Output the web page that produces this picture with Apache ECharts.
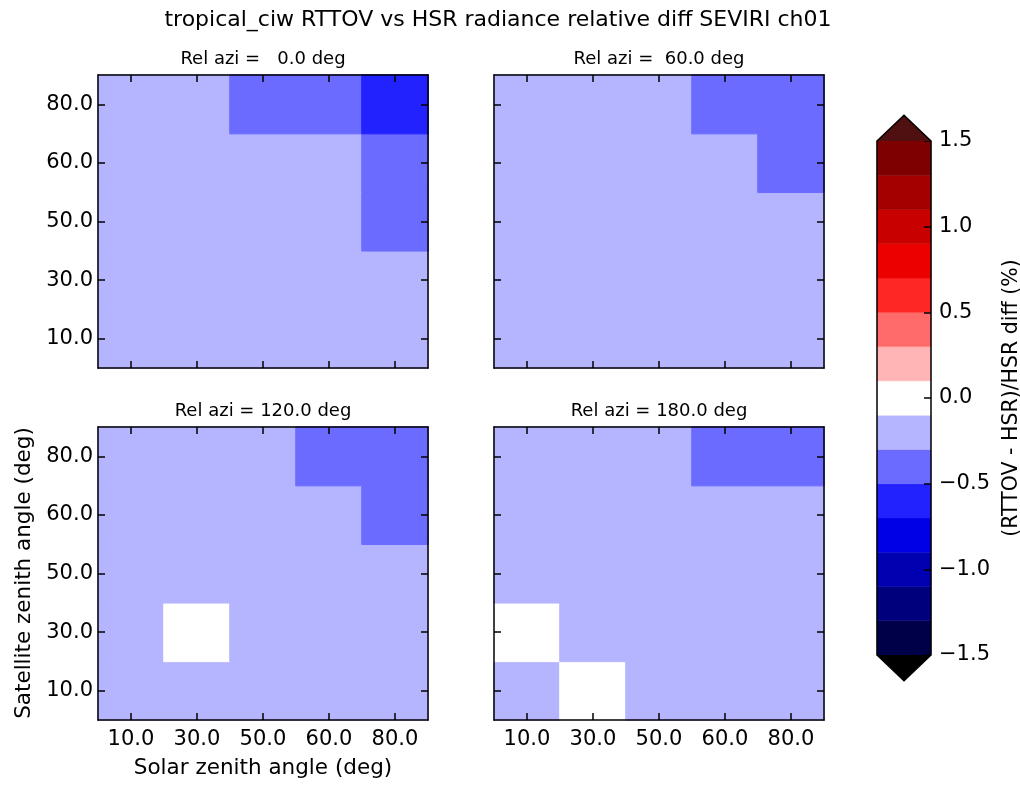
<!DOCTYPE html>
<html><head><meta charset="utf-8">
<script src="https://cdn.jsdelivr.net/npm/echarts@6/dist/echarts.min.js"></script>
<style>html,body{margin:0;padding:0;background:#fff}#c{width:1020px;height:785px}</style>
</head><body><div id="c"></div>
<script>
// ---------- data ----------
const solarZenith = ['10.0', '30.0', '50.0', '60.0', '80.0'];   // x categories
const satZenith   = ['10.0', '30.0', '50.0', '60.0', '80.0'];   // y categories (bottom -> top)
const relAzi = [0.0, 60.0, 120.0, 180.0];
// rows: satellite zenith 10 -> 80 ; columns: solar zenith 10 -> 80  (relative diff, %)
const diffAzi0 = [
  [-0.2, -0.2, -0.2, -0.2, -0.2],
  [-0.2, -0.2, -0.2, -0.2, -0.2],
  [-0.2, -0.2, -0.2, -0.2, -0.4],
  [-0.2, -0.2, -0.2, -0.2, -0.4],
  [-0.2, -0.2, -0.4, -0.4, -0.6]
];
const diffAzi60 = [
  [-0.2, -0.2, -0.2, -0.2, -0.2],
  [-0.2, -0.2, -0.2, -0.2, -0.2],
  [-0.2, -0.2, -0.2, -0.2, -0.2],
  [-0.2, -0.2, -0.2, -0.2, -0.4],
  [-0.2, -0.2, -0.2, -0.4, -0.4]
];
const diffAzi120 = [
  [-0.2, -0.2, -0.2, -0.2, -0.2],
  [-0.2,  0.0, -0.2, -0.2, -0.2],
  [-0.2, -0.2, -0.2, -0.2, -0.2],
  [-0.2, -0.2, -0.2, -0.2, -0.4],
  [-0.2, -0.2, -0.2, -0.4, -0.4]
];
const diffAzi180 = [
  [-0.2,  0.0, -0.2, -0.2, -0.2],
  [ 0.0, -0.2, -0.2, -0.2, -0.2],
  [-0.2, -0.2, -0.2, -0.2, -0.2],
  [-0.2, -0.2, -0.2, -0.2, -0.2],
  [-0.2, -0.2, -0.2, -0.4, -0.4]
];
const panelData = [diffAzi0, diffAzi60, diffAzi120, diffAzi180];
const levels = [-1.5, -1.3, -1.1, -0.9, -0.7, -0.5, -0.3, -0.1, 0.1, 0.3, 0.5, 0.7, 0.9, 1.1, 1.3, 1.5];
const levelColors = ['#000048', '#00007c', '#0000b0', '#0000e6', '#2222ff', '#6b6bff', '#b5b5ff', '#ffffff',
                     '#ffb5b5', '#ff6b6b', '#ff2626', '#ec0000', '#c80000', '#a40000', '#7f0000'];
const overColor = '#4e1010';
const underColor = '#000000';
const cbarTicks = [-1.5, -1.0, -0.5, 0.0, 0.5, 1.0, 1.5];
const titleText = 'tropical_ciw RTTOV vs HSR radiance relative diff SEVIRI ch01';
const xLabel = 'Solar zenith angle (deg)';
const yLabel = 'Satellite zenith angle (deg)';
const cbarLabel = '(RTTOV - HSR)/HSR diff (%)';

// ---------- layout ----------
const FONT = 'DejaVu Sans';
const panels = [{left: 98, top: 75}, {left: 494, top: 75}, {left: 98, top: 427}, {left: 494, top: 427}];
const PW = 330, PH = 293;
const cbar = {left: 877, top: 141, width: 54, height: 514};
const LW = 1.5;
const AXZ = 1; // axes on an upper layer, above the cells

const line = {show: true, lineStyle: {color: '#000', width: LW}};
const tick = {show: true, inside: true, alignWithLabel: true, length: 7, interval: 0, lineStyle: {color: '#000', width: LW}};

const colorFor = v => {
  for (let k = 0; k < levels.length - 1; k++) if (v >= levels[k] && v < levels[k + 1]) return levelColors[k];
  return v < levels[0] ? underColor : overColor;
};

const grids = panels.map(p => ({left: p.left, top: p.top, width: PW, height: PH}));
grids.push({left: cbar.left, top: cbar.top, width: cbar.width, height: cbar.height});

const xAxes = [], yAxes = [], series = [];
panels.forEach((p, i) => {
  const showX = i >= 2, showY = i % 2 === 0;
  xAxes.push({type: 'category', gridIndex: i, data: solarZenith, position: 'bottom', zlevel: AXZ,
    axisLine: line, axisTick: tick, splitLine: {show: false},
    axisLabel: {show: showX, interval: 0, color: '#000', fontSize: 21, fontFamily: FONT, margin: 9}});
  xAxes.push({type: 'category', gridIndex: i, data: solarZenith, position: 'top', zlevel: AXZ,
    axisLine: line, axisTick: tick, splitLine: {show: false}, axisLabel: {show: false}});
  yAxes.push({type: 'category', gridIndex: i, data: satZenith, position: 'left', zlevel: AXZ,
    axisLine: line, axisTick: tick, splitLine: {show: false},
    axisLabel: {show: showY, interval: 0, color: '#000', fontSize: 21, fontFamily: FONT, margin: 5}});
  yAxes.push({type: 'category', gridIndex: i, data: satZenith, position: 'right', zlevel: AXZ,
    axisLine: line, axisTick: tick, splitLine: {show: false}, axisLabel: {show: false}});
  const d = [];
  panelData[i].forEach((row, r) => row.forEach((v, c) =>
    d.push({value: [c, r, v], itemStyle: {borderColor: colorFor(v), borderWidth: 1}})));
  series.push({type: 'heatmap', xAxisIndex: 2 * i, yAxisIndex: 2 * i, data: d,
    emphasis: {disabled: true}, progressive: 0, animation: false});
});

// colorbar axes
const cbMin = levels[0], cbMax = levels[levels.length - 1];
xAxes.push({type: 'value', gridIndex: 4, min: 0, max: 1, show: false});
yAxes.push({type: 'value', gridIndex: 4, min: cbMin, max: cbMax, interval: 0.5, position: 'right', zlevel: AXZ,
  axisLine: {show: true, onZero: false, lineStyle: {color: '#000', width: LW}},
  axisTick: {show: true, inside: true, length: 7, lineStyle: {color: '#000', width: LW}},
  splitLine: {show: false},
  axisLabel: {color: '#000', fontSize: 21, fontFamily: FONT, margin: 8,
    formatter: v => cbarTicks.some(t => Math.abs(t - v) < 1e-9) ? v.toFixed(1).replace('-', '\u2212') : ''}});
yAxes.push({type: 'value', gridIndex: 4, min: cbMin, max: cbMax, position: 'left', zlevel: AXZ,
  axisLine: {show: true, onZero: false, lineStyle: {color: '#000', width: LW}},
  axisTick: {show: false}, axisLabel: {show: false}, splitLine: {show: false}});

const cbIdx = {xAxisIndex: 8, yAxisIndex: 8};
series.push(Object.assign({type: 'custom', clip: false, animation: false, silent: true,
  data: levels.slice(0, -1).map((lo, k) => [lo, levels[k + 1], k]),
  encode: {y: [0, 1]},
  renderItem: (params, api) => {
    const a = api.coord([0, api.value(0)]);
    const b = api.coord([1, api.value(1)]);
    const c = levelColors[api.value(2)];
    return {type: 'rect', shape: {x: a[0], y: b[1], width: b[0] - a[0], height: a[1] - b[1]},
      style: {fill: c, stroke: c, lineWidth: 0.5}};
  }}, cbIdx));
const ext = 0.05 * (cbMax - cbMin);
series.push(Object.assign({type: 'custom', clip: false, animation: false, silent: true, zlevel: AXZ,
  data: [[cbMax, 1], [cbMin, -1]],
  encode: {y: 0},
  renderItem: (params, api) => {
    const v = api.value(0), dir = api.value(1);
    const p1 = api.coord([0, v]), p2 = api.coord([1, v]), tip = api.coord([0.5, v + dir * ext]);
    return {type: 'group', children: [
      {type: 'polygon', shape: {points: [p1, tip, p2]}, style: {fill: dir > 0 ? overColor : underColor}},
      {type: 'polyline', shape: {points: [p1, tip, p2]}, style: {stroke: '#000', lineWidth: LW, fill: null}}
    ]};
  }}, cbIdx));

const pieces = levels.slice(0, -1).map((lo, k) => ({gte: lo, lt: levels[k + 1], color: levelColors[k]}));

const txt = (text, x, y, size, rot) => ({type: 'text', x, y, rotation: rot || 0, z: 20,
  style: {text, fontSize: size, fontFamily: FONT, fill: '#000', align: 'center', verticalAlign: 'middle'}});
const graphics = [txt(titleText, 498, 20, 22)];
panels.forEach((p, i) => {
  const a = relAzi[i].toFixed(1).padStart(5, ' ');
  graphics.push(txt('Rel azi = ' + a + ' deg', p.left + PW / 2, p.top - 16, 18));
});
graphics.push(txt(xLabel, 263, 768, 21.5));
graphics.push(txt(yLabel, 24, 573, 21.5, Math.PI / 2));
graphics.push(txt(cbarLabel, 1012, 398, 20.5, Math.PI / 2));

const chart = echarts.init(document.getElementById('c'), null, {renderer: 'canvas'});
chart.setOption({
  animation: false,
  backgroundColor: '#fff',
  grid: grids,
  xAxis: xAxes,
  yAxis: yAxes,
  visualMap: {type: 'piecewise', show: false, seriesIndex: [0, 1, 2, 3], dimension: 2, pieces},
  series,
  graphic: graphics
});
</script></body></html>
